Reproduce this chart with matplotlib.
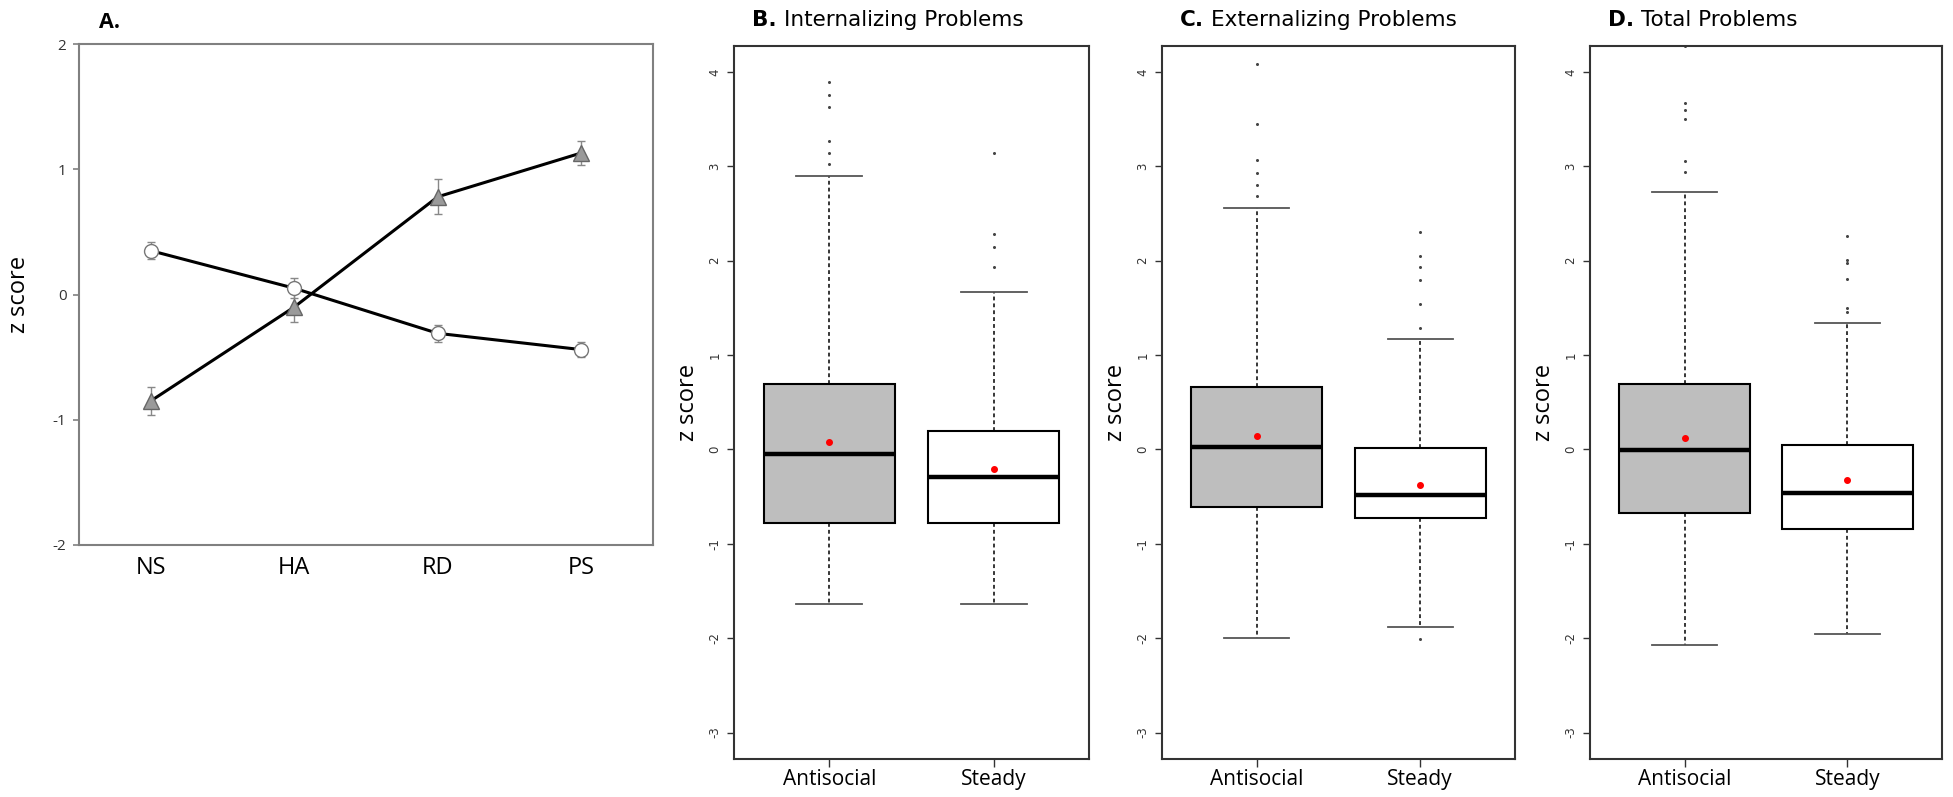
import numpy as np
import matplotlib
matplotlib.use("Agg")
import matplotlib.pyplot as plt

# panel A: temperament profile means and error bars
traits = ["NS", "HA", "RD", "PS"]
antisocial_mean = [-0.85, -0.10, 0.78, 1.13]
antisocial_err = [0.11, 0.12, 0.14, 0.095]
steady_mean = [0.35, 0.05, -0.31, -0.44]
steady_err = [0.07, 0.08, 0.07, 0.06]

# panels B-D: boxplot summaries (Antisocial, Steady)
groups = ["Antisocial", "Steady"]
panel_titles = ["Internalizing Problems", "Externalizing Problems", "Total Problems"]
panel_letters = ["B.", "C.", "D."]

q1 = [[-0.78, -0.78], [-0.61, -0.73], [-0.67, -0.84]]
median = [[-0.05, -0.29], [0.03, -0.48], [-0.01, -0.46]]
q3 = [[0.69, 0.20], [0.66, 0.02], [0.69, 0.05]]
whisk_lo = [[-1.64, -1.64], [-2.00, -1.88], [-2.07, -1.96]]
whisk_hi = [[2.90, 1.67], [2.56, 1.17], [2.73, 1.34]]
means = [[0.075, -0.205], [0.146, -0.372], [0.124, -0.324]]
outliers = [
    [[3.89, 3.76, 3.63, 3.27, 3.14, 3.02], [3.14, 2.28, 2.15, 1.93]],
    [[4.08, 3.45, 3.07, 2.93, 2.80, 2.69], [2.30, 2.05, 1.93, 1.80, 1.54, 1.29, -2.01]],
    [[4.28, 3.67, 3.60, 3.50, 3.06, 2.94], [2.26, 2.01, 1.98, 1.81, 1.50, 1.46]],
]
box_colors = ["#bebebe", "white"]

W, H = 1953, 797
fig = plt.figure(figsize=(W / 100, H / 100), dpi=100)

def fr(left, top, right, bottom):
    return [left / W, 1 - bottom / H, (right - left) / W, (bottom - top) / H]

# ---- panel A
axA = fig.add_axes(fr(79, 44, 653, 545))
x = np.arange(len(traits))
axA.errorbar(x, antisocial_mean, yerr=antisocial_err, color="black", lw=2.2,
             marker="^", ms=11, mfc="#9a9a9a", mec="#666666", mew=1,
             ecolor="#888888", elinewidth=1, capsize=3, capthick=1, zorder=3)
axA.errorbar(x, steady_mean, yerr=steady_err, color="black", lw=2.2,
             marker="o", ms=10, mfc="white", mec="#777777", mew=1,
             ecolor="#888888", elinewidth=1, capsize=3, capthick=1, zorder=3)
axA.set_xlim(-0.5, 3.5)
axA.set_ylim(-2, 2)
axA.set_yticks([-2, -1, 0, 1, 2])
axA.set_yticklabels(["-2", "-1", "0", "1", "2"], fontsize=11, color="#333333",
                    family="Open Sans")
axA.set_xticks(x)
axA.set_xticklabels(traits, fontsize=17, family="Open Sans")
axA.tick_params(axis="x", length=0, pad=8)
axA.tick_params(axis="y", length=4, color="#808080", width=1.2, pad=5)
for s in axA.spines.values():
    s.set_color("#808080")
    s.set_linewidth(1.5)
axA.set_ylabel("z score", fontsize=17, family="Open Sans", labelpad=16)
fig.text(99 / W, 1 - 22 / H, "A.", fontsize=15.5, fontweight="bold",
         family="Open Sans", va="center", ha="left")

# ---- panels B-D
frames = [(734, 1089), (1162, 1515), (1590, 1942)]
renderer = fig.canvas.get_renderer()
for i in range(3):
    left, right = frames[i]
    ax = fig.add_axes(fr(left, 45.5, right, 759))
    stats = []
    for g in range(2):
        stats.append(dict(med=median[i][g], q1=q1[i][g], q3=q3[i][g],
                          whislo=whisk_lo[i][g], whishi=whisk_hi[i][g],
                          fliers=outliers[i][g], mean=means[i][g]))
    bp = ax.bxp(stats, positions=[1, 2], widths=0.8, capwidths=0.4,
                patch_artist=True, showmeans=True,
                boxprops=dict(edgecolor="black", linewidth=1.5),
                medianprops=dict(color="black", linewidth=3.2),
                whiskerprops=dict(color="black", linewidth=1.1, linestyle=(0, (2.5, 2))),
                capprops=dict(color="#555555", linewidth=1.3),
                flierprops=dict(marker="o", markersize=2.2, mfc="#444444",
                                mec="none", linestyle="none"),
                meanprops=dict(marker="o", markersize=4, mfc="red",
                               mec="red", linestyle="none"))
    for patch, c in zip(bp["boxes"], box_colors):
        patch.set_facecolor(c)
    ax.set_xlim(0.42, 2.58)
    ax.set_ylim(-3.28, 4.28)
    ax.set_yticks(range(-3, 5))
    ax.set_yticklabels([str(v) for v in range(-3, 5)], rotation=90, va="center",
                       fontsize=8.5, color="#333333")
    ax.set_xticks([1, 2])
    ax.set_xticklabels(groups, fontsize=15, family="Open Sans")
    ax.tick_params(axis="y", length=5, width=1, color="#333333", pad=4)
    ax.tick_params(axis="x", length=6, width=1, color="#333333", pad=1)
    for s in ax.spines.values():
        s.set_color("#333333")
        s.set_linewidth(1.5)
    ax.set_ylabel("z score", fontsize=17, family="Open Sans", labelpad=6)
    t1 = fig.text((left + 18) / W, 1 - 20 / H, panel_letters[i], fontsize=15.5,
                  fontweight="bold", va="center", ha="left")
    bb = t1.get_window_extent(renderer)
    fig.text(bb.x1 / W + 7 / W, 1 - 20 / H, panel_titles[i], fontsize=15.5,
             va="center", ha="left")

fig.savefig("out.png", dpi=100)
